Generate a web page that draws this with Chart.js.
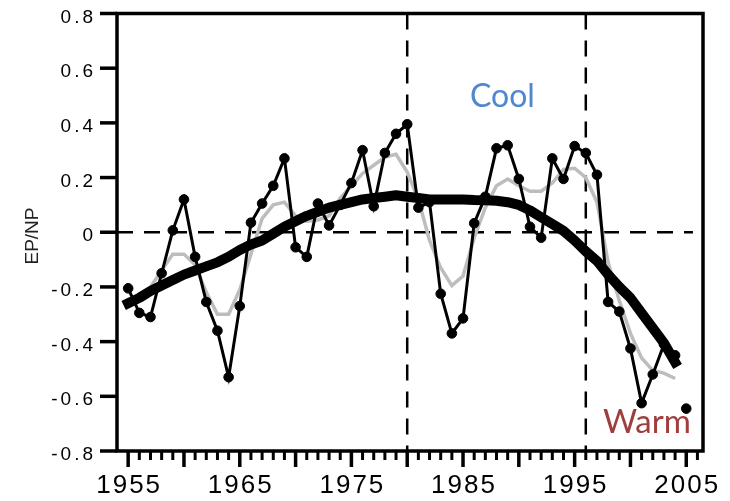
<!DOCTYPE html>
<html>
<head>
<meta charset="utf-8">
<script src="https://cdn.jsdelivr.net/npm/chart.js@4/dist/chart.umd.min.js"></script>
<style>
  html, body { margin: 0; padding: 0; background: #fff; }
  #wrap { width: 730px; height: 501px; }
</style>
</head>
<body>
<div id="wrap"><canvas id="epnp" width="730" height="501"></canvas></div>
<script>
/* global Chart */

// annual EP/NP index, 1955-2004
const years = [
    1955, 1956, 1957, 1958, 1959, 1960, 1961, 1962, 1963, 1964,
    1965, 1966, 1967, 1968, 1969, 1970, 1971, 1972, 1973, 1974,
    1975, 1976, 1977, 1978, 1979, 1980, 1981, 1982, 1983, 1984,
    1985, 1986, 1987, 1988, 1989, 1990, 1991, 1992, 1993, 1994,
    1995, 1996, 1997, 1998, 1999, 2000, 2001, 2002, 2003, 2004,
];
const epnp = [
    -0.205, -0.295, -0.31, -0.15, 0.007, 0.12, -0.09, -0.255, -0.36, -0.53,
    -0.27, 0.035, 0.105, 0.17, 0.27, -0.055, -0.09, 0.105, 0.025, 0.10,
    0.18, 0.30, 0.095, 0.29, 0.36, 0.395, 0.09, 0.11, -0.225, -0.37,
    -0.315, 0.033, 0.13, 0.307, 0.318, 0.195, 0.02, -0.02, 0.27, 0.195,
    0.315, 0.29, 0.21, -0.255, -0.29, -0.425, -0.625, -0.52, -0.41, -0.45,
];
// running mean (grey)
const runMean = [
    null, null, -0.20, -0.14, -0.08, -0.08, -0.12, -0.22, -0.30, -0.30,
    -0.21, -0.08, 0.05, 0.10, 0.11, 0.06, 0.04, 0.045, 0.06, 0.125,
    0.17, 0.215, 0.245, 0.275, 0.285, 0.22, 0.12, -0.03, -0.13, -0.195,
    -0.16, -0.02, 0.09, 0.17, 0.195, 0.17, 0.15, 0.15, 0.18, 0.23,
    0.234, 0.20, 0.11, -0.11, -0.25, -0.37, -0.46, -0.505, -0.515, -0.535,
];
// long-term trend (thick black)
const trend = [
    -0.26, -0.24, -0.215, -0.195, -0.175, -0.155, -0.14, -0.125, -0.11, -0.09,
    -0.065, -0.045, -0.03, -0.005, 0.02, 0.04, 0.06, 0.075, 0.09, 0.10,
    0.11, 0.12, 0.125, 0.13, 0.135, 0.13, 0.125, 0.12, 0.12, 0.12,
    0.12, 0.118, 0.117, 0.115, 0.11, 0.10, 0.08, 0.055, 0.03, 0.005,
    -0.03, -0.07, -0.105, -0.155, -0.20, -0.24, -0.295, -0.35, -0.405, -0.475,
];
// 2005 value, plotted on its own
const lastYear = [2005];
const lastValue = [-0.645];

// regime shift years
const shiftYears = [1980, 1996];

const yTicks = [0.8, 0.6, 0.4, 0.2, 0, -0.2, -0.4, -0.6, -0.8];
const yTickLabels = ['0.8', '0.6', '0.4', '0.2', '0', '-0.2', '-0.4', '-0.6', '-0.8'];
const xLabelYears = [1955, 1965, 1975, 1985, 1995, 2005];
const xLabels = ['1955', '1965', '1975', '1985', '1995', '2005'];

const X_MIN = 1954, X_MAX = 2006.5;

const pts = (xs, ys) => xs.map((x, i) => ({ x: x, y: ys[i] }));

function spacedText(ctx, text, x, y, spacing, align) {
    const widths = [...text].map(c => ctx.measureText(c).width);
    const total = widths.reduce((a, b) => a + b, 0) + spacing * (widths.length - 1);
    let cx = align === 'center' ? x - total / 2 : align === 'right' ? x - total : x;
    ctx.textAlign = 'left';
    [...text].forEach((c, i) => {
        ctx.fillText(c, cx, y);
        cx += widths[i] + spacing;
    });
}

// frame, ticks, tick labels and the annotations
const framePlugin = {
    id: 'frame',
    afterDraw(chart) {
        const { ctx, chartArea: a, scales } = chart;
        const xs = scales.x, ys = scales.y;
        ctx.save();
        ctx.strokeStyle = '#000';
        ctx.fillStyle = '#000';
        ctx.lineWidth = 3.5;
        ctx.strokeRect(a.left, a.top, a.right - a.left, a.bottom - a.top);

        // y ticks
        ctx.lineWidth = 3.5;
        ctx.font = '19px "Liberation Sans", Arial, sans-serif';
        ctx.textBaseline = 'alphabetic';
        yTicks.forEach((v, i) => {
            const py = ys.getPixelForValue(v);
            ctx.beginPath();
            ctx.moveTo(a.left - 17, py);
            ctx.lineTo(a.left, py);
            ctx.stroke();
            spacedText(ctx, yTickLabels[i], a.left - 24, py + 9, 3, 'right');
        });

        // x ticks: every year, longer every 5
        for (let yr = 1955; yr <= 2006; yr++) {
            const px = xs.getPixelForValue(yr);
            const major = yr % 5 === 0;
            ctx.lineWidth = major ? 3.5 : 3;
            ctx.beginPath();
            ctx.moveTo(px, a.bottom);
            ctx.lineTo(px, a.bottom + (major ? 16 : 9));
            ctx.stroke();
        }
        ctx.font = '26px "Liberation Sans", Arial, sans-serif';
        xLabelYears.forEach((yr, i) => {
            spacedText(ctx, xLabels[i], xs.getPixelForValue(yr), 493, 2, 'center');
        });

        // axis title
        ctx.save();
        ctx.translate(33, 236);
        ctx.rotate(-Math.PI / 2);
        ctx.font = '19px "Liberation Sans", Arial, sans-serif';
        ctx.fillStyle = '#222';
        ctx.textAlign = 'center';
        ctx.textBaseline = 'middle';
        ctx.fillText('EP/NP', 0, 0);
        ctx.restore();

        ctx.textAlign = 'left';
        ctx.font = '32px Lato, "Open Sans", sans-serif';
        ctx.fillStyle = '#4f87d2';
        ctx.fillText('Cool', 470, 107);
        ctx.font = '33px Lato, "Open Sans", sans-serif';
        ctx.fillStyle = '#a03d3d';
        ctx.fillText('Warm', 603, 433);
        ctx.restore();
    },
};

const dashed = {
    borderColor: '#000',
    borderWidth: 2.5,
    borderDash: [16, 11],
    pointRadius: 0,
    fill: false,
    order: 5,
};

const datasets = [
    Object.assign({ data: [{ x: X_MIN, y: 0 }, { x: 2005.6, y: 0 }] }, dashed),
    ...shiftYears.map(yr => Object.assign({ data: [{ x: yr, y: 0.8 }, { x: yr, y: -0.8 }] }, dashed)),
    {
        label: 'running mean',
        data: pts(years, runMean),
        borderColor: '#bdbdbd',
        borderWidth: 3.5,
        pointRadius: 0,
        spanGaps: false,
        order: 3,
    },
    {
        label: 'EP/NP',
        data: pts(years, epnp),
        borderColor: '#000',
        borderWidth: 3,
        pointRadius: 4.8,
        pointBorderWidth: 1,
        pointBackgroundColor: '#000',
        pointBorderColor: '#000',
        order: 1,
    },
    {
        label: '2005',
        data: pts(lastYear, lastValue),
        showLine: false,
        pointRadius: 4.8,
        pointBorderWidth: 1,
        pointBackgroundColor: '#000',
        pointBorderColor: '#000',
        order: 1,
    },
    {
        label: 'trend',
        data: pts(years, trend),
        borderColor: '#000',
        borderWidth: 10,
        borderCapStyle: 'square',
        borderJoinStyle: 'round',
        pointRadius: 0,
        order: 0,
    },
];

new Chart(document.getElementById('epnp').getContext('2d'), {
    type: 'line',
    data: { datasets: datasets },
    options: {
        responsive: false,
        animation: false,
        devicePixelRatio: 1,
        layout: { padding: { left: 117, right: 27, top: 13.5, bottom: 50 } },
        elements: { line: { tension: 0 } },
        plugins: { legend: { display: false }, tooltip: { enabled: false } },
        scales: {
            x: { type: 'linear', min: X_MIN, max: X_MAX, display: false },
            y: { min: -0.8, max: 0.8, display: false },
        },
    },
    plugins: [framePlugin],
});
</script>
</body>
</html>
